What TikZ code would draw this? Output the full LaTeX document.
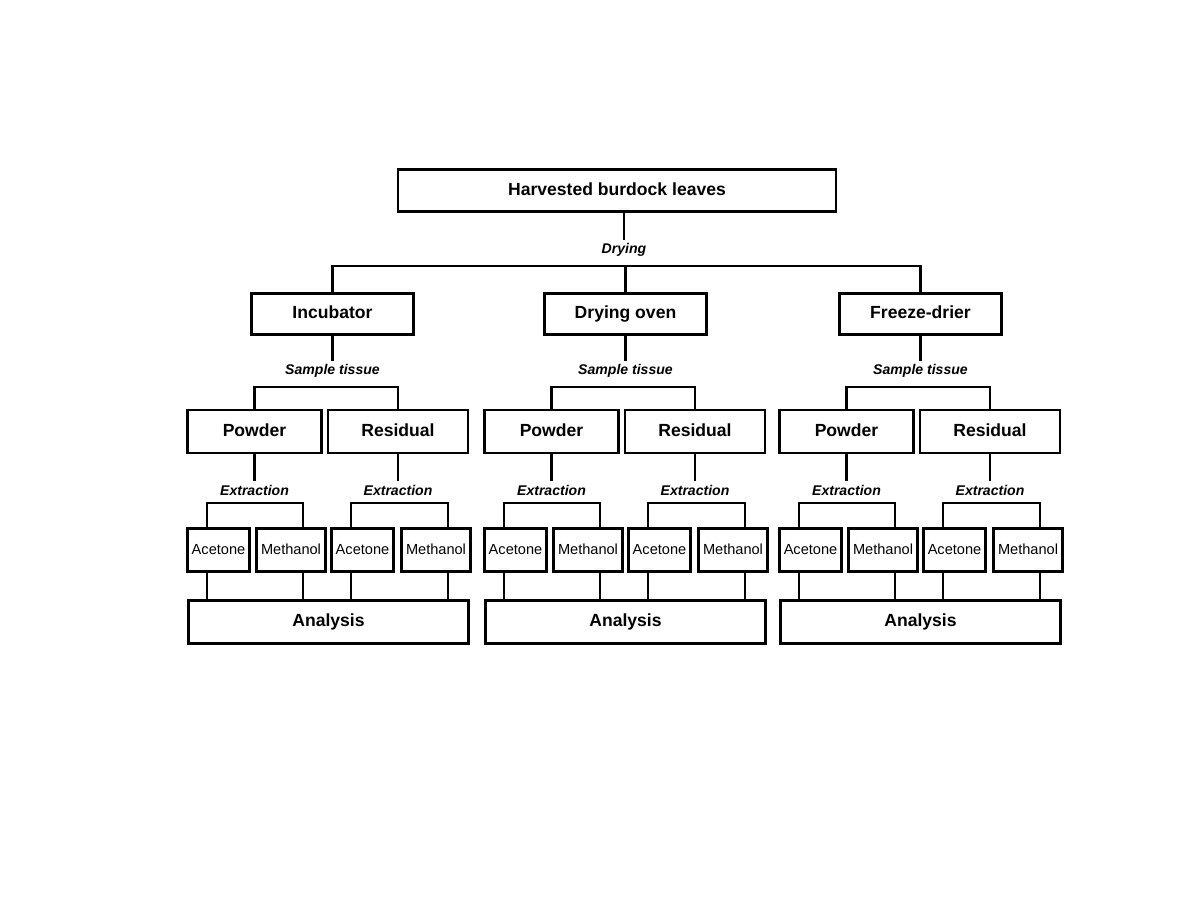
\documentclass[tikz,border=0pt]{standalone}
\usepackage{fontspec}
\setmainfont{Liberation Sans}

\begin{document}
\begin{tikzpicture}[
  x=0.02cm, y=-0.02cm,
  every node/.style={font=\small},
  boxnode/.style={rectangle, draw=black, line width=1.6pt, minimum height=0.86cm, inner sep=1pt, align=center, text height=0.72em, text depth=0.2em, font=\fontsize{10}{12}\selectfont\bfseries},
  solvnode/.style={rectangle, draw=black, line width=1.6pt, minimum height=0.86cm, inner sep=1pt, align=center, text height=0.72em, text depth=0.2em, font=\fontsize{8.3}{10}\selectfont},
  steplbl/.style={inner sep=2pt, font=\fontsize{8}{10}\selectfont\bfseries\itshape},
  link/.style={draw=black, line width=1.4pt},
]
\useasboundingbox (0,0) rectangle (1188,918);

% Top: harvested leaves, then drying
\node[boxnode, minimum width=8.76cm, minimum height=0.84cm] (leaves) at (617,190.5) {Harvested burdock leaves};
\node[steplbl] (dry) at (624,250) {Drying};
\draw[link] (dry |- leaves.south) -- (dry);

% One column per drying method
\foreach \i/\cx/\xo/\dname in {1/332.5/186/Incubator, 2/625.5/483/Drying oven, 3/920.5/778/Freeze-drier} {
  \node[boxnode, minimum width=3.24cm, minimum height=0.82cm] (dm\i) at (\cx,314) {\dname};
  \node[steplbl] (st\i) at (\cx,371) {Sample tissue};
  \node[boxnode, minimum width=2.68cm] (pw\i) at (\xo+68.5,431.5) {Powder};
  \node[boxnode, minimum width=2.80cm] (rs\i) at (\xo+212,431.5) {Residual};
  \node[steplbl] (ep\i) at (\xo+68.5,490) {Extraction};
  \node[steplbl] (er\i) at (\xo+212,490) {Extraction};
  \node[solvnode, minimum width=1.24cm] (ap\i) at (\xo+32.5,550) {Acetone};
  \node[solvnode, minimum width=1.38cm] (mp\i) at (\xo+105,550) {Methanol};
  \node[solvnode, minimum width=1.24cm] (ar\i) at (\xo+176.5,550) {Acetone};
  \node[solvnode, minimum width=1.38cm] (mr\i) at (\xo+250,550) {Methanol};
  \node[boxnode, minimum width=5.6cm] (an\i) at (\xo+142.5,622) {Analysis};

  \draw[link] (dm\i) -- (st\i);
  \draw[link] (pw\i.north) -- ++(0,-21.5) -| (rs\i.north);
  \draw[link] (pw\i) -- (ep\i);
  \draw[link] (rs\i) -- (er\i);
  \draw[link] ([xshift=-0.23cm]ap\i.north) -- ++(0,-24) -| ([xshift=0.24cm]mp\i.north);
  \draw[link] ([xshift=-0.23cm]ar\i.north) -- ++(0,-24) -| ([xshift=0.24cm]mr\i.north);
  % solvents into analysis
  \draw[link] ([xshift=-0.23cm]ap\i.south) -- ([xshift=-0.23cm]ap\i.south |- an\i.north);
  \draw[link] ([xshift=0.24cm]mp\i.south) -- ([xshift=0.24cm]mp\i.south |- an\i.north);
  \draw[link] ([xshift=-0.23cm]ar\i.south) -- ([xshift=-0.23cm]ar\i.south |- an\i.north);
  \draw[link] ([xshift=0.24cm]mr\i.south) -- ([xshift=0.24cm]mr\i.south |- an\i.north);
}

% Drying bar to the three methods
\draw[link] (dm1.north) -- ++(0,-26) -| (dm3.north);
\draw[link] (dm2.north) -- ++(0,-25.5);

\end{tikzpicture}
\end{document}
